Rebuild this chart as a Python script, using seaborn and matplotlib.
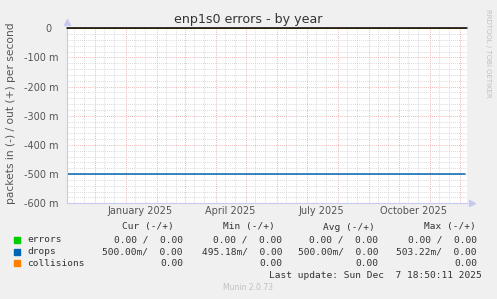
import matplotlib
matplotlib.use("Agg")
import matplotlib.pyplot as plt
import matplotlib.dates as mdates
from matplotlib.patches import Rectangle
from matplotlib.transforms import ScaledTranslation
import seaborn as sns
import pandas as pd

# ---- data ----
dates = ["2024-11-02", "2025-12-06"]
errors = [0.0, 0.0]
drops = [-0.5, -0.5]
collisions = [0.0, 0.0]
series_names = ["errors", "drops", "collisions"]
series_colors = ["#00CC00", "#0066B3", "#FF8000"]
y_ticks = [0, -0.1, -0.2, -0.3, -0.4, -0.5, -0.6]
y_tick_labels = ["0", "-100 m", "-200 m", "-300 m", "-400 m", "-500 m", "-600 m"]
x_label_dates = ["2025-01-15", "2025-04-15", "2025-07-15", "2025-10-15"]
x_label_text = ["January 2025", "April 2025", "July 2025", "October 2025"]
x_start, x_end = "2024-11-02 18:50", "2025-12-07 18:50"
table_rows = [
    ("errors", "0.00 /  0.00", "0.00 /  0.00", "0.00 /  0.00", "0.00 /  0.00"),
    ("drops", "500.00m/  0.00", "495.18m/  0.00", "500.00m/  0.00", "503.22m/  0.00"),
    ("collisions", "0.00", "0.00", "0.00", "0.00"),
]
headers = ["Cur (-/+)", "Min (-/+)", "Avg (-/+)", "Max (-/+)"]
last_update = "Last update: Sun Dec  7 18:50:11 2025"

df = pd.DataFrame({
    "date": pd.to_datetime(dates * 3),
    "value": errors + drops + collisions,
    "series": [s for s in series_names for _ in dates],
})

sns.set_style("white")
plt.rcParams["font.family"] = ["DejaVu Sans"]

W, H = 497, 299
fig = plt.figure(figsize=(W / 100, H / 100), dpi=100, facecolor="#F0F0F0")
L, R, T, B = 66.5, 467, 28.3, 203.3
ax = fig.add_axes([L / W, 1 - B / H, (R - L) / W, (B - T) / H])
ax.set_facecolor("white")

ax.set_xlim(pd.Timestamp(x_start), pd.Timestamp(x_end))
ax.set_ylim(-0.6, 0)

# grid
ax.xaxis.set_major_locator(mdates.MonthLocator())
ax.xaxis.set_minor_locator(mdates.DayLocator(bymonthday=[10, 20]))
ax.set_yticks(y_ticks)
ax.yaxis.set_minor_locator(matplotlib.ticker.MultipleLocator(0.02))
ax.grid(which="minor", color="#CCCCCC", linestyle=(0, (1, 1.5)), linewidth=0.6)
ax.grid(which="major", color="#E8A0A0", linestyle=(0, (1, 1.5)), linewidth=0.6)
ax.set_axisbelow(True)

sns.lineplot(data=df, x="date", y="value", hue="series", hue_order=series_names,
             palette=series_colors, ax=ax, linewidth=1.1, legend=False)
ax.axhline(0, color="black", linewidth=1.1, clip_on=False, zorder=5)

# ticks
ax.tick_params(axis="x", which="major", length=2, color="#E08080", labelbottom=False)
ax.tick_params(axis="x", which="minor", length=2, color="#C8C8C8", labelbottom=False)
ax.tick_params(axis="y", which="major", length=2, color="#E08080", pad=4,
               labelsize=7, labelcolor="#555555")
ax.tick_params(axis="y", which="minor", length=2, color="#C8C8C8")
ax.set_yticklabels(y_tick_labels)
for lab in ax.get_yticklabels():
    if lab.get_text() == "0":
        lab.set_transform(lab.get_transform() + ScaledTranslation(-0.07, 0, fig.dpi_scale_trans))

trans = ax.get_xaxis_transform() + ScaledTranslation(0, -3 / 100, fig.dpi_scale_trans)
for d, t in zip(x_label_dates, x_label_text):
    ax.text(mdates.date2num(pd.Timestamp(d)), 0, t, transform=trans,
            ha="center", va="top", fontsize=7, color="#555555", clip_on=False)

ax.set_xlabel("")
ax.set_ylabel("")
for s in ["top", "right"]:
    ax.spines[s].set_visible(False)
for s in ["left", "bottom"]:
    ax.spines[s].set_color("#C8C8F0")
    ax.spines[s].set_linewidth(0.8)
ax.plot([0], [1.035], marker="^", markersize=4, color="#C8C8F0", transform=ax.transAxes, clip_on=False)
ax.plot([1.013], [0], marker=">", markersize=4, color="#C8C8F0", transform=ax.transAxes, clip_on=False)

# texts
fig.text(248.5 / W, 1 - 19 / H, "enp1s0 errors - by year", ha="center", va="center",
         fontsize=9.1, color="#333333")
fig.text(11 / W, 1 - 113 / H, "packets in (-) / out (+) per second", rotation=90,
         ha="center", va="center", fontsize=7.7, color="#555555")
fig.text(488 / W, 1 - 53 / H, "RRDTOOL / TOBI OETIKER", rotation=270, ha="center",
         va="center", fontsize=5, color="#C0C0C0")
fig.text(248 / W, 1 - 288 / H, "Munin 2.0.73", ha="center", va="center",
         fontsize=5.5, color="#C0C0C0")

mono = dict(family="DejaVu Sans Mono", fontsize=6.8, color="#333333", va="center")
header_x = [174, 275, 375, 476]
value_x = [183, 282, 378, 477]
for hx, h in zip(header_x, headers):
    fig.text(hx / W, 1 - 227 / H, h, ha="right", **mono)
row_y = [240, 252, 263]
for (name, *vals), ry, col in zip(table_rows, row_y, series_colors):
    fig.patches.append(Rectangle((14 / W, 1 - (ry + 3) / H), 6 / W, 6 / H,
                                 transform=fig.transFigure, color=col, figure=fig))
    fig.text(27 / W, 1 - ry / H, name, ha="left", **mono)
    for vx, v in zip(value_x, vals):
        fig.text(vx / W, 1 - ry / H, v, ha="right", **mono)
fig.text(482 / W, 1 - 275 / H, last_update, ha="right", **mono)

fig.savefig("out.png", dpi=100, facecolor=fig.get_facecolor())
